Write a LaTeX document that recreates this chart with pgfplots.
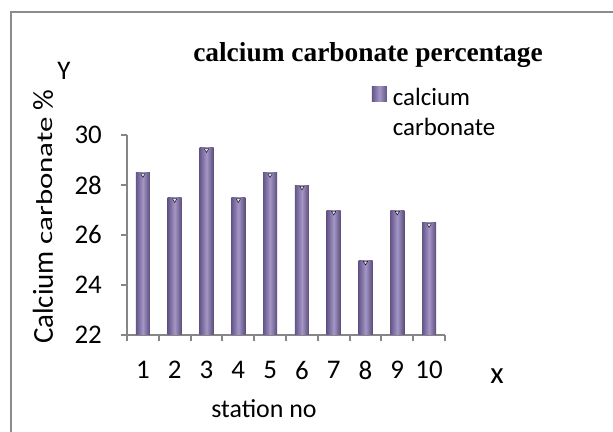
\documentclass[border=0pt]{standalone}
\usepackage{fontspec}
\setmainfont{Carlito}
\newfontfamily\titlefont{Liberation Serif}
\newfontfamily\stretchfont[FakeStretch=1.35]{Carlito}
\usepackage{pgfplots}
\pgfplotsset{compat=1.18}
\definecolor{axgray}{RGB}{134,134,134}
\definecolor{frgray}{RGB}{140,140,140}
\definecolor{barD}{RGB}{100,84,136}
\definecolor{barL}{RGB}{164,150,198}
\pgfplotsset{barsty/.style={ybar, bar width=14bp, draw=none,
  left color=barD, right color=barD!90!black, middle color=barL}}
\begin{document}
\begin{tikzpicture}
\path[use as bounding box] (0,0) rectangle (613bp,432bp);
\draw[frgray, line width=2bp] (11bp,0) -- (11bp,419.5bp) -- (613bp,419.5bp);
\begin{axis}[
  at={(127bp,97bp)}, anchor=south west,
  scale only axis, width=318bp, height=200bp,
  xmin=0.5, xmax=10.5, ymin=22, ymax=30,
  axis x line=bottom, axis y line=left,
  axis line style={-, draw=axgray, line width=2bp},
  xtick={1,...,10},
  minor xtick={0.5,1.5,...,10.5},
  ytick={22,24,...,30},
  tick align=outside,
  major tick length=6bp, minor tick length=6bp,
  major x tick style={draw=none},
  minor x tick style={draw=axgray, line width=2bp},
  major y tick style={draw=axgray, line width=2bp},
  /pgf/number format/assume math mode=true,
  ticklabel style={font=\fontsize{27}{27}\selectfont},
  xticklabel style={yshift=-17bp},
  yticklabel style={anchor=east, inner xsep=0pt},
  yticklabel shift=19bp,
  legend style={draw=none, fill=none, inner sep=0pt, outer sep=0pt,
    at={(rel axis cs:0.770,1.245)}, anchor=north west,
    row sep=8bp,
    nodes={inner sep=0pt, text height=17bp, text depth=5bp,
           font=\fontsize{25}{25}\selectfont}},
  legend cell align=left,
  legend image code/.code={
    \fill[left color=barD, right color=barD, middle color=barL] (0bp,-2bp) rectangle (15bp,13bp);
    \path (0bp,0bp) -- (21bp,0bp);
  },
]
\addplot[barsty] coordinates {(1,28.5)};
\addlegendentry{calcium}
\addlegendimage{empty legend}
\addlegendentry{carbonate}
\addplot[barsty, forget plot] coordinates {(2,27.5)};
\addplot[barsty, forget plot] coordinates {(3,29.5)};
\addplot[barsty, forget plot] coordinates {(4,27.5)};
\addplot[barsty, forget plot] coordinates {(5,28.5)};
\addplot[barsty, forget plot] coordinates {(6,28)};
\addplot[barsty, forget plot] coordinates {(7,27)};
\addplot[barsty, forget plot] coordinates {(8,25)};
\addplot[barsty, forget plot] coordinates {(9,27)};
\addplot[barsty, forget plot] coordinates {(10,26.5)};
\addplot[only marks, mark=triangle*, mark size=2.5bp, yshift=-2.5bp,
  mark options={rotate=180, fill=white!70!barL, draw=none}, forget plot]
  coordinates {(1,28.5) (2,27.5) (3,29.5) (4,27.5) (5,28.5) (6,28) (7,27) (8,25) (9,27) (10,26.5)};
\end{axis}
\node at (368bp,377bp) {\titlefont\bfseries\fontsize{27.5}{27.5}\selectfont calcium carbonate percentage};
\node[rotate=90] at (43bp,215bp) {\fontsize{29}{29}\selectfont Calcium {\stretchfont\fontsize{23}{23}\selectfont carbonate} \%};
\node at (64bp,361bp) {\fontsize{27}{27}\selectfont Y};
\node at (497bp,56bp) {\fontsize{31}{31}\selectfont x};
\node at (264bp,23bp) {\fontsize{26}{26}\selectfont station no};
\end{tikzpicture}
\end{document}
